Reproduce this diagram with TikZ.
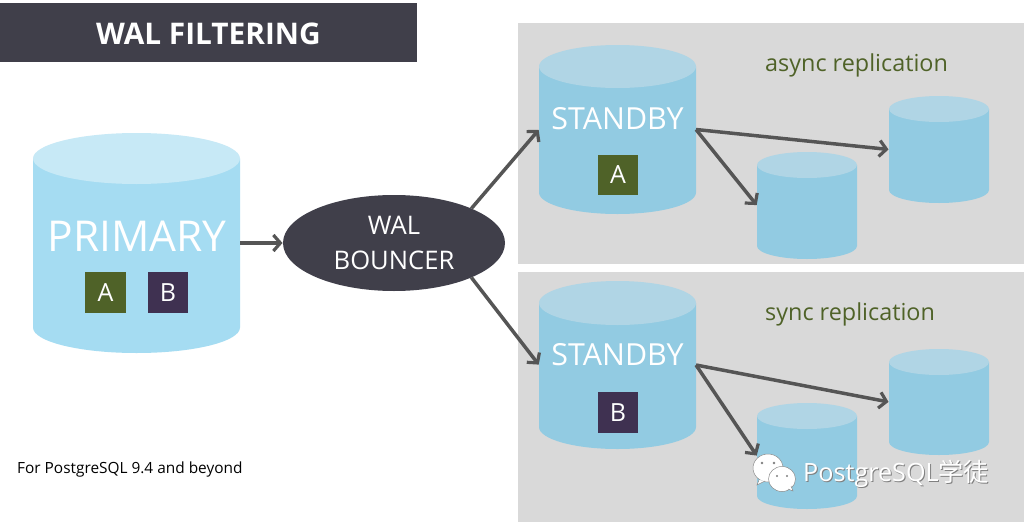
\documentclass[tikz,border=0pt]{standalone}
\usepackage{fontspec}
\setmainfont{Open Sans}
\newfontfamily\cjkf{Noto Sans CJK SC}
\usetikzlibrary{arrows.meta,shapes.geometric}
\definecolor{panelg}{HTML}{D9D9D9}
\definecolor{darkbar}{HTML}{403F4A}
\definecolor{arrowg}{HTML}{555555}
\definecolor{pbody}{HTML}{A5DCF2}
\definecolor{ptop}{HTML}{C7E9F6}
\definecolor{sbody}{HTML}{92CBE2}
\definecolor{stop}{HTML}{B0D5E5}
\definecolor{greenA}{HTML}{4F6228}
\definecolor{purpleB}{HTML}{3F3151}
\newcommand{\fsz}[1]{\fontsize{#1}{#1}\selectfont}
% x-left, x-right, top y, ellipse ry, bottom y, body, top colour, name
\newcommand{\cyl}[8]{%
  \fill[#6] (#1,#3+#4) -- (#2,#3+#4) -- (#2,#5-#4)
     arc[start angle=0,end angle=180,x radius={(#2-#1)/2},y radius=#4] -- cycle;
  \fill[#7] ({(#1+#2)/2},#3+#4) ellipse[x radius={(#2-#1)/2},y radius=#4];
  \node[cylbox,minimum width={(#2-#1)*1pt},minimum height={(#5-#3)*1pt}] (#8) at ({(#1+#2)/2},{(#3+#5)/2}) {};
}
\tikzset{
  x=1pt,y=-1pt,
  cylbox/.style={rectangle,inner sep=0pt,outer sep=0pt},
  flow/.style={draw=arrowg,line width=3.5pt,-{Straight Barb[length=7pt,width=16pt,line width=3.2pt]},shorten >=0.5pt},
  tag/.style={minimum size=40.5pt,inner sep=0pt,text=white,font=\fsz{25}},
  greentag/.style={tag,fill=greenA},
  purpletag/.style={tag,fill=purpleB},
  cyllabel/.style={text=white,inner sep=0pt},
  replabel/.style={text=greenA,font=\fsz{23.4},inner sep=0pt},
  bubble/.style={fill=white,draw=black!45,line width=0.5pt},
}
\begin{document}
\begin{tikzpicture}
\useasboundingbox (0,0) rectangle (1024,522);
\fill[white] (0,0) rectangle (1024,522);
\fill[panelg] (518,23) rectangle (1024,264);
\fill[panelg] (518,272) rectangle (1024,522);
\fill[darkbar] (0,3) rectangle (417,62);
\node[text=white,inner sep=0pt,font=\bfseries\fsz{29.8}] (title) at (208.5,33.5) {WAL FILTERING};

\cyl{33}{240}{133}{25.5}{353}{pbody}{ptop}{primary}
\cyl{539}{696}{45}{21.5}{214}{sbody}{stop}{standbya}
\cyl{539}{696}{281}{22}{449}{sbody}{stop}{standbyb}
\cyl{757}{857}{152}{13}{259}{sbody}{stop}{smalla}
\cyl{889}{989}{96}{13}{203}{sbody}{stop}{smallb}
\cyl{757}{857}{403}{13}{509}{sbody}{stop}{smallc}
\cyl{889}{989}{349}{13}{455}{sbody}{stop}{smalld}

\node[ellipse,fill=darkbar,minimum width=222pt,minimum height=96pt,inner sep=0pt,outer sep=0pt,text=white,align=center,font=\fsz{25.6}] (wal) at (394,243) {WAL\\[9pt]BOUNCER};

\node[cyllabel,font=\fsz{42.5}] (plabel) at (137,236) {PRIMARY};
\node[cyllabel,font=\fsz{30.4}] (salabel) at (617.5,119) {STANDBY};
\node[cyllabel,font=\fsz{30.4}] (sblabel) at (617.5,355) {STANDBY};
\node[greentag] (pa) at (105.5,292.5) {A};
\node[purpletag] (pb) at (168,292.5) {B};
\node[greentag] (sa) at (618,175) {A};
\node[purpletag] (sb) at (618,412.5) {B};

\node[replabel,anchor=west] (async) at (765,65) {async replication};
\node[replabel,anchor=west] (sync) at (765,314) {sync replication};
\node[anchor=west,inner sep=0pt,font=\fsz{15.4}] (note) at (17,469) {For PostgreSQL 9.4 and beyond};

\draw[flow] (primary.east) -- (wal.west);
\draw[flow] (wal.24) -- (standbya.west);
\draw[flow] (wal.-24) -- (standbyb.west);
\draw[flow] (standbya.east) -- (smallb.west);
\draw[flow] (standbya.east) -- (smalla.west);
\draw[flow] (standbyb.east) -- (smalld.west);
\draw[flow] (standbyb.east) -- (smallc.west);

% watermark
\draw[bubble] (768,468) ellipse[x radius=15,y radius=14];
\draw[bubble] (759,480) -- (757,485) -- (765,481);
\draw[bubble] (782,479) ellipse[x radius=13.5,y radius=12.5];
\draw[bubble] (788,489) -- (793,491) -- (791,486);
\fill[black!50] (762,463) circle[radius=1.3] (774,463) circle[radius=1.3] (777,476) circle[radius=1.2] (787,476) circle[radius=1.2];
\node[anchor=west,inner sep=0pt,text=black!50,font=\fsz{25.2}] (wmshadow) at (804,474.7) {PostgreSQL{\cjkf 学徒}};
\node[anchor=west,inner sep=0pt,text=white,font=\fsz{25.2}] (wm) at (803,474) {PostgreSQL{\cjkf 学徒}};
\end{tikzpicture}
\end{document}
